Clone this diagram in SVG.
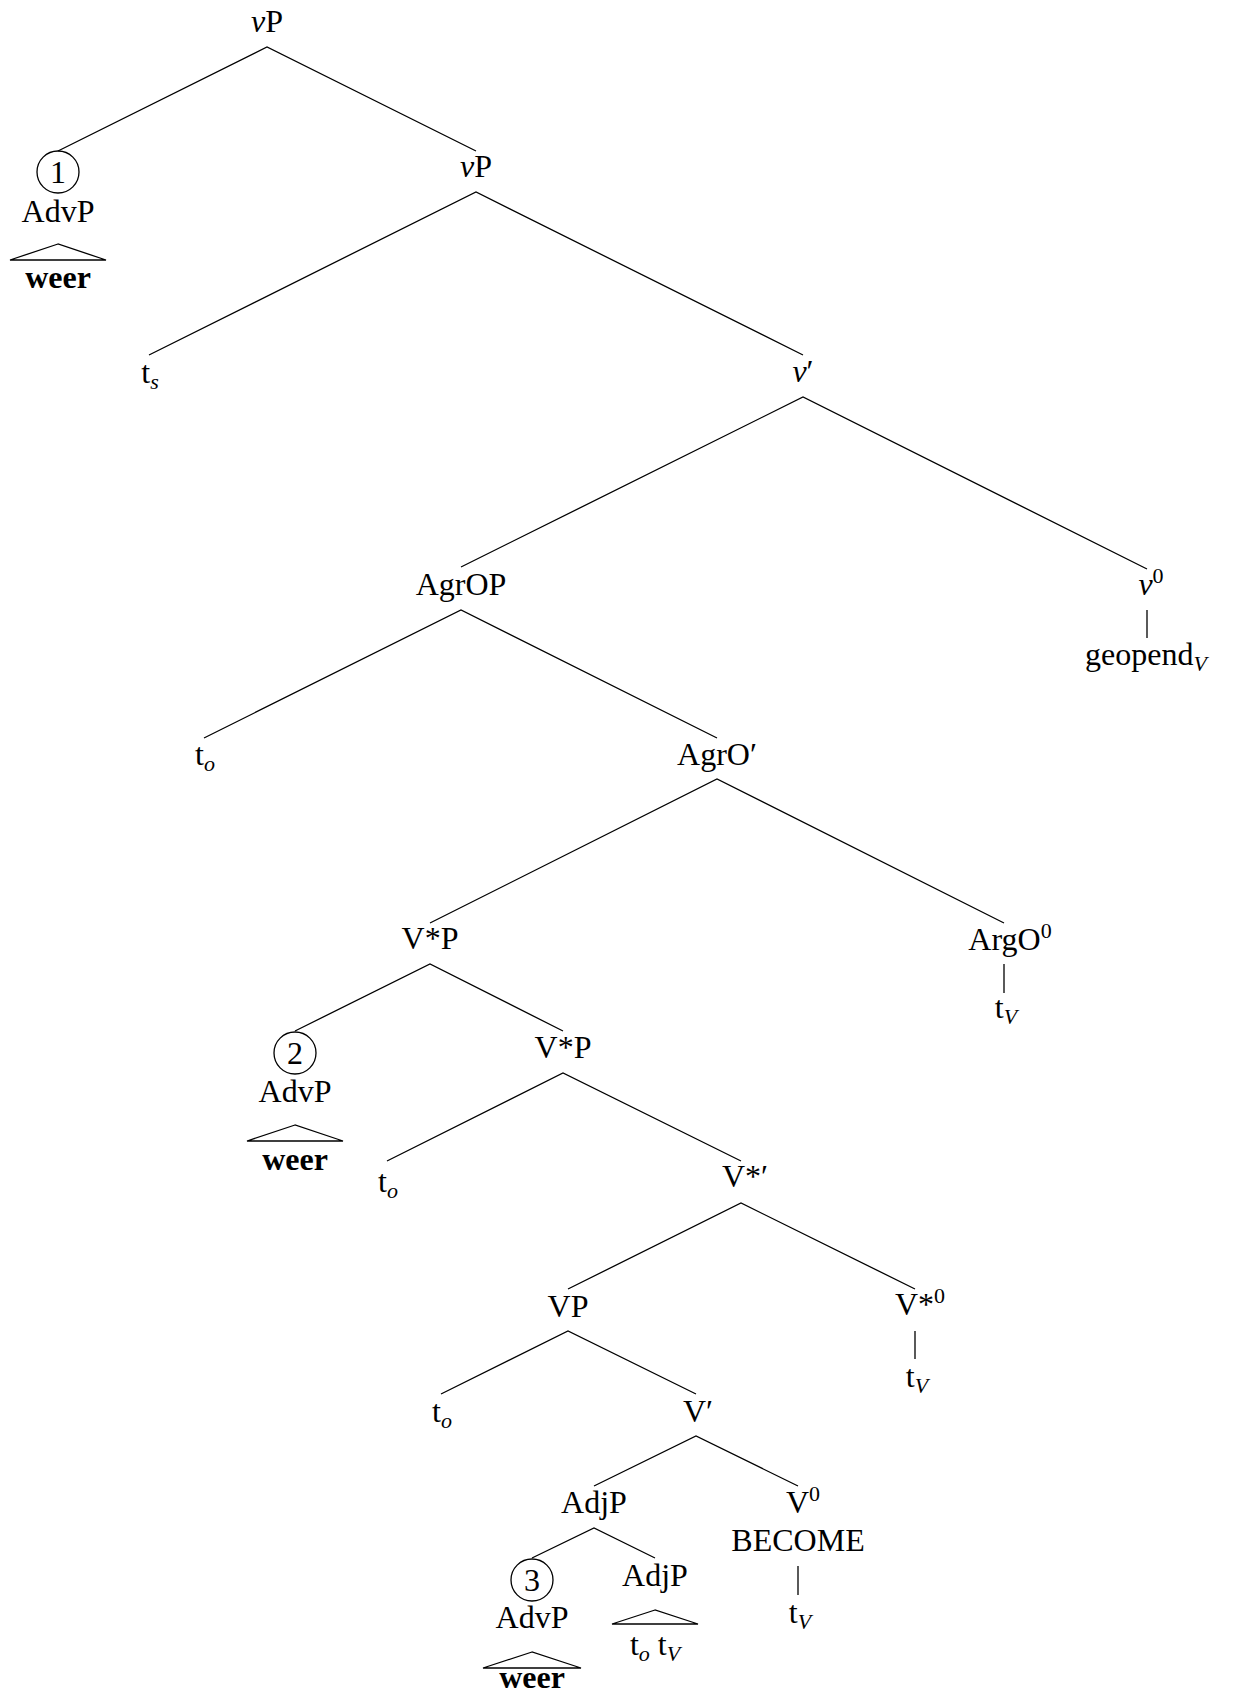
<svg xmlns="http://www.w3.org/2000/svg" width="1233" height="1703" viewBox="0 0 1233 1703">
<style>
text{font-family:"Liberation Serif","Times New Roman",serif;font-size:32px;fill:#000;text-anchor:middle}
.it{font-style:italic}
.b{font-weight:bold}
.sub{font-size:22px;font-style:italic}
.sup{font-size:22px}
line,polyline,circle{stroke:#000;stroke-width:1.3;fill:none}
polygon{stroke:#000;stroke-width:1.3;fill:none}
</style>
<rect width="1233" height="1703" fill="#fff"/>
<g id="connectors">
<polyline points="58,151 267,47 476,151"/>
<polyline points="149,355 476,192 803,355"/>
<polyline points="461,567 803,397 1147,569"/>
<line x1="1147" y1="610" x2="1147" y2="638"/>
<polyline points="204,738 461,610 717,738"/>
<polyline points="430,923 717,779 1004,923"/>
<line x1="1004" y1="964" x2="1004" y2="993"/>
<polyline points="295,1031 430,964 563,1031"/>
<polyline points="387,1161 563,1073 741,1161"/>
<polyline points="568,1289 741,1203 915,1289"/>
<line x1="915" y1="1331" x2="915" y2="1359"/>
<polyline points="441,1394 568,1331 696,1394"/>
<polyline points="594,1486 696,1436 798,1486"/>
<polyline points="532,1558 594,1528 655,1558"/>
<line x1="798" y1="1566" x2="798" y2="1595"/>
</g>
<g id="n-vP-root"><text x="267" y="32"><tspan class="it">v</tspan>P</text></g>
<g id="n-advp1">
<circle cx="58" cy="172" r="21"/>
<text x="58" y="183">1</text>
<text x="58" y="222">AdvP</text>
<polygon points="58,244 10,260 106,260"/>
<text x="58" y="288" class="b">weer</text>
</g>
<g id="n-vP2"><text x="476" y="177"><tspan class="it">v</tspan>P</text></g>
<g id="n-ts"><text x="150" y="383">t<tspan class="sub" dy="6">s</tspan></text></g>
<g id="n-vbar"><text x="803" y="382"><tspan class="it">v</tspan>′</text></g>
<g id="n-v0">
<text x="1151" y="595"><tspan class="it">v</tspan><tspan class="sup" dy="-12">0</tspan></text>
<text x="1146" y="665">geopend<tspan class="sub" dy="6">V</tspan></text>
</g>
<g id="n-AgrOP"><text x="461" y="595">AgrOP</text></g>
<g id="n-to1"><text x="205" y="765">t<tspan class="sub" dy="6">o</tspan></text></g>
<g id="n-AgrObar"><text x="717" y="765">AgrO′</text></g>
<g id="n-ArgO0">
<text x="1010" y="950">ArgO<tspan class="sup" dy="-12">0</tspan></text>
<text x="1006" y="1018">t<tspan class="sub" dy="6">V</tspan></text>
</g>
<g id="n-VstarP1"><text x="430" y="949">V*P</text></g>
<g id="n-advp2">
<circle cx="295" cy="1053" r="21"/>
<text x="295" y="1064">2</text>
<text x="295" y="1102">AdvP</text>
<polygon points="295,1125 247,1141 343,1141"/>
<text x="295" y="1170" class="b">weer</text>
</g>
<g id="n-VstarP2"><text x="563" y="1058">V*P</text></g>
<g id="n-to2"><text x="388" y="1192">t<tspan class="sub" dy="6">o</tspan></text></g>
<g id="n-Vstarbar"><text x="745" y="1187">V*′</text></g>
<g id="n-VP"><text x="568" y="1317">VP</text></g>
<g id="n-Vstar0">
<text x="920" y="1315">V*<tspan class="sup" dy="-12">0</tspan></text>
<text x="917" y="1387">t<tspan class="sub" dy="6">V</tspan></text>
</g>
<g id="n-to3"><text x="442" y="1422">t<tspan class="sub" dy="6">o</tspan></text></g>
<g id="n-Vbar"><text x="698" y="1422">V′</text></g>
<g id="n-AdjP1"><text x="594" y="1513">AdjP</text></g>
<g id="n-V0">
<text x="803" y="1513">V<tspan class="sup" dy="-12">0</tspan></text>
<text x="798" y="1551">BECOME</text>
<text x="800" y="1623">t<tspan class="sub" dy="6">V</tspan></text>
</g>
<g id="n-advp3">
<circle cx="532" cy="1580" r="21"/>
<text x="532" y="1591">3</text>
<text x="532" y="1628">AdvP</text>
<polygon points="532,1652 483,1668 581,1668"/>
<text x="532" y="1688" class="b">weer</text>
</g>
<g id="n-AdjP2">
<text x="655" y="1586">AdjP</text>
<polygon points="655,1610 612,1624 698,1624"/>
<text x="655" y="1655">t<tspan class="sub" dy="6">o</tspan><tspan dy="-6"> t</tspan><tspan class="sub" dy="6">V</tspan></text>
</g>
</svg>
